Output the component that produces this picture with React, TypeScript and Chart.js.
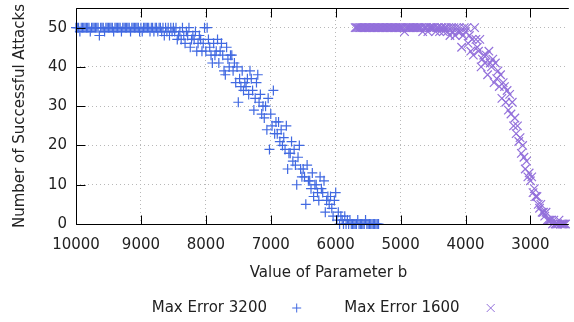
import React, { useEffect, useRef } from "react";
import { Chart, registerables } from "chart.js";

Chart.register(...registerables);

const xTickValues = [10000, 9000, 8000, 7000, 6000, 5000, 4000, 3000];
const yTickValues = [0, 10, 20, 30, 40, 50];
const seriesLabels = ["Max Error 3200", "Max Error 1600"];
const xTitle = "Value of Parameter b";
const yTitle = "Number of Successful Attacks";

const bError3200 = [
  10000, 9980, 9960, 9940, 9920, 9900, 9880, 9860, 9840, 9820,
  9800, 9780, 9760, 9740, 9720, 9700, 9680, 9660, 9640, 9620,
  9600, 9580, 9560, 9540, 9520, 9500, 9480, 9460, 9440, 9420,
  9400, 9380, 9360, 9340, 9320, 9300, 9280, 9260, 9240, 9220,
  9200, 9180, 9160, 9140, 9120, 9100, 9080, 9060, 9040, 9020,
  9000, 8980, 8960, 8940, 8920, 8900, 8880, 8860, 8840, 8820,
  8800, 8780, 8760, 8740, 8720, 8700, 8680, 8660, 8640, 8620,
  8600, 8580, 8560, 8540, 8520, 8500, 8480, 8460, 8440, 8420,
  8400, 8380, 8360, 8340, 8320, 8300, 8280, 8260, 8240, 8220,
  8200, 8180, 8160, 8140, 8120, 8100, 8080, 8060, 8040, 8020,
  8000, 7980, 7960, 7940, 7920, 7900, 7880, 7860, 7840, 7820,
  7800, 7780, 7760, 7740, 7720, 7700, 7680, 7660, 7640, 7620,
  7600, 7580, 7560, 7540, 7520, 7500, 7480, 7460, 7440, 7420,
  7400, 7380, 7360, 7340, 7320, 7300, 7280, 7260, 7240, 7220,
  7200, 7180, 7160, 7140, 7120, 7100, 7080, 7060, 7040, 7020,
  7000, 6980, 6960, 6940, 6920, 6900, 6880, 6860, 6840, 6820,
  6800, 6780, 6760, 6740, 6720, 6700, 6680, 6660, 6640, 6620,
  6600, 6580, 6560, 6540, 6520, 6500, 6480, 6460, 6440, 6420,
  6400, 6380, 6360, 6340, 6320, 6300, 6280, 6260, 6240, 6220,
  6200, 6180, 6160, 6140, 6120, 6100, 6080, 6060, 6040, 6020,
  6000, 5980, 5960, 5940, 5920, 5900, 5880, 5860, 5840, 5820,
  5800, 5780, 5760, 5740, 5720, 5700, 5680, 5660, 5640, 5620,
  5600, 5580, 5560, 5540, 5520, 5500, 5480, 5460, 5440, 5420,
  5400, 5380, 5360, 5340,
];
const attacksError3200 = [
  50, 50, 50, 49, 50, 50, 50, 50, 50, 50,
  50, 49, 50, 50, 50, 50, 50, 50, 48, 50,
  50, 50, 49, 50, 50, 50, 50, 50, 50, 49,
  50, 50, 50, 50, 50, 49, 50, 50, 50, 50,
  50, 50, 49, 50, 50, 50, 50, 50, 50, 49,
  50, 49, 50, 50, 50, 50, 50, 49, 50, 50,
  49, 50, 50, 49, 50, 50, 49, 50, 48, 50,
  49, 50, 48, 50, 49, 50, 49, 50, 47, 48,
  49, 47, 50, 48, 46, 49, 48, 50, 45, 47,
  48, 47, 49, 44, 46, 48, 47, 44, 46, 50,
  44, 50, 47, 45, 43, 41, 46, 43, 44, 47,
  41, 44, 46, 43, 39, 38, 45, 42, 40, 43,
  43, 39, 41, 36, 40, 31, 37, 35, 39, 34,
  36, 35, 37, 33, 39, 37, 34, 29, 32, 36,
  38, 31, 33, 28, 30, 27, 30, 24, 32, 19,
  28, 25, 34, 23, 26, 23, 26, 21, 24, 20,
  22, 19, 25, 14, 18, 18, 21, 16, 19, 15,
  10, 17, 20, 14, 12, 14, 12, 5, 15, 11,
  11, 9, 13, 7, 10, 10, 8, 6, 12, 9,
  8, 11, 3, 6, 7, 5, 7, 4, 2, 6,
  8, 1, 3, 0, 2, 1, 0, 2, 0, 1,
  0, 1, 0, 0, 0, 0, 0, 1, 0, 0,
  0, 0, 0, 1, 0, 0, 0, 0, 0, 0,
  0, 0, 0, 0,
];

const bError1600 = [
  5700, 5680, 5660, 5640, 5620, 5600, 5580, 5560, 5540, 5520,
  5500, 5480, 5460, 5440, 5420, 5400, 5380, 5360, 5340, 5320,
  5300, 5280, 5260, 5240, 5220, 5200, 5180, 5160, 5140, 5120,
  5100, 5080, 5060, 5040, 5020, 5000, 4980, 4960, 4940, 4920,
  4900, 4880, 4860, 4840, 4820, 4800, 4780, 4760, 4740, 4720,
  4700, 4680, 4660, 4640, 4620, 4600, 4580, 4560, 4540, 4520,
  4500, 4480, 4460, 4440, 4420, 4400, 4380, 4360, 4340, 4320,
  4300, 4280, 4260, 4240, 4220, 4200, 4180, 4160, 4140, 4120,
  4100, 4080, 4060, 4040, 4020, 4000, 3980, 3960, 3940, 3920,
  3900, 3880, 3860, 3840, 3820, 3800, 3780, 3760, 3740, 3720,
  3700, 3680, 3660, 3640, 3620, 3600, 3580, 3560, 3540, 3520,
  3500, 3480, 3460, 3440, 3420, 3400, 3380, 3360, 3340, 3320,
  3300, 3280, 3260, 3240, 3220, 3200, 3180, 3160, 3140, 3120,
  3100, 3080, 3060, 3040, 3020, 3000, 2980, 2960, 2940, 2920,
  2900, 2880, 2860, 2840, 2820, 2800, 2780, 2760, 2740, 2720,
  2700, 2680, 2660, 2640, 2620, 2600, 2580, 2560, 2540, 2520,
  2500, 2480, 2460,
];
const attacksError1600 = [
  50, 50, 50, 50, 50, 50, 50, 50, 50, 50,
  50, 50, 50, 50, 50, 50, 50, 50, 50, 50,
  50, 50, 50, 50, 50, 50, 50, 50, 50, 50,
  50, 50, 50, 50, 50, 50, 50, 50, 49, 50,
  50, 50, 50, 50, 50, 50, 50, 50, 50, 50,
  50, 50, 49, 50, 50, 50, 49, 50, 50, 50,
  50, 50, 49, 50, 50, 49, 50, 50, 49, 50,
  50, 49, 50, 48, 50, 49, 50, 48, 50, 49,
  50, 49, 45, 48, 50, 49, 50, 46, 48, 44,
  47, 43, 50, 47, 45, 44, 47, 40, 42, 43,
  41, 43, 38, 44, 41, 40, 42, 36, 41, 37,
  39, 35, 38, 32, 36, 35, 31, 34, 29, 33,
  28, 31, 25, 27, 23, 25, 21, 22, 18, 20,
  17, 14, 16, 12, 13, 11, 12, 8, 9, 7,
  7, 5, 4, 5, 3, 3, 2, 3, 1, 1,
  1, 1, 0, 1, 0, 0, 0, 1, 0, 0,
  0, 0, 0,
];

const BLUE = "#4169e1";
const PURPLE = "#9370db";
const TEXT = "#222222";
const FONT = "'DejaVu Sans'";

const framePlugin = {
  id: "gnuplotFrame",
  afterDatasetsDraw(chart: any) {
    const { ctx, chartArea: a, scales } = chart;
    const x = scales.x;
    const y = scales.y;
    ctx.save();
    ctx.strokeStyle = "#000";
    ctx.lineWidth = 1;
    ctx.beginPath();
    const L = Math.round(a.left) + 0.5;
    const B = Math.round(a.bottom) + 0.5;
    const T = Math.round(a.top) + 0.5;
    ctx.moveTo(a.right + 2, T);
    ctx.lineTo(L, T);
    ctx.lineTo(L, B);
    ctx.lineTo(a.right + 2, B);
    const tl = 9;
    for (const v of yTickValues) {
      const py = Math.round(y.getPixelForValue(v)) + 0.5;
      ctx.moveTo(L, py);
      ctx.lineTo(L + tl, py);
    }
    for (const v of xTickValues) {
      const px = Math.round(x.getPixelForValue(v)) + 0.5;
      ctx.moveTo(px, B);
      ctx.lineTo(px, B - tl);
      ctx.moveTo(px, T);
      ctx.lineTo(px, T + tl);
    }
    ctx.stroke();
    ctx.restore();
  },
  afterDraw(chart: any) {
    const { ctx, chartArea: a } = chart;
    ctx.save();
    ctx.fillStyle = TEXT;
    ctx.font = `15px ${FONT}`;
    ctx.textBaseline = "middle";
    ctx.textAlign = "center";
    ctx.fillText(xTitle, 328.5, 273);
    ctx.save();
    ctx.translate(20, (a.top + a.bottom) / 2);
    ctx.rotate(-Math.PI / 2);
    ctx.fillText(yTitle, 0, 0);
    ctx.restore();
    ctx.textAlign = "left";
    const ly = 308;
    ctx.fillText(seriesLabels[0], 151.7, ly);
    ctx.fillText(seriesLabels[1], 344.3, ly);
    ctx.lineWidth = 1;
    ctx.strokeStyle = BLUE;
    ctx.beginPath();
    ctx.moveTo(296.7 - 4.5, ly);
    ctx.lineTo(296.7 + 4.5, ly);
    ctx.moveTo(296.7, ly - 4.5);
    ctx.lineTo(296.7, ly + 4.5);
    ctx.stroke();
    ctx.strokeStyle = PURPLE;
    ctx.beginPath();
    ctx.moveTo(490.7 - 4, ly - 4);
    ctx.lineTo(490.7 + 4, ly + 4);
    ctx.moveTo(490.7 - 4, ly + 4);
    ctx.lineTo(490.7 + 4, ly - 4);
    ctx.stroke();
    ctx.restore();
  },
};

export default function App() {
  const canvasRef = useRef<HTMLCanvasElement | null>(null);

  useEffect(() => {
    const canvas = canvasRef.current;
    if (!canvas) return;
    const pts1 = bError3200.map((b, i) => ({ x: b, y: attacksError3200[i] }));
    const pts2 = bError1600.map((b, i) => ({ x: b, y: attacksError1600[i] }));
    const chart = new Chart(canvas, {
      type: "scatter",
      data: {
        datasets: [
          {
            label: seriesLabels[0],
            data: pts1,
            pointStyle: "cross",
            pointRadius: 5,
            borderColor: BLUE,
            backgroundColor: BLUE,
            borderWidth: 1.2,
            clip: false as any,
          },
          {
            label: seriesLabels[1],
            data: pts2,
            pointStyle: "crossRot",
            pointRadius: 6,
            borderColor: PURPLE,
            backgroundColor: PURPLE,
            borderWidth: 1.2,
            clip: false as any,
          },
        ],
      },
      options: {
        animation: false,
        responsive: false,
        devicePixelRatio: 1,
        layout: { padding: { top: 8, left: 0, right: 0, bottom: 0 } },
        plugins: {
          legend: { display: false },
          tooltip: { enabled: false },
        },
        scales: {
          x: {
            type: "linear",
            reverse: true,
            min: 2440,
            max: 10000,
            afterBuildTicks: (s: any) => {
              s.ticks = xTickValues.map((v) => ({ value: v }));
            },
            ticks: {
              font: { family: FONT, size: 15 },
              color: TEXT,
              padding: 12,
              maxRotation: 0,
              autoSkip: false,
              callback: (v: any) => String(v),
            },
            grid: { color: "#b8b8b8", drawTicks: false, lineWidth: 1 },
            border: { display: false, dash: [1, 3] },
            afterFit: (s: any) => {
              s.height = 98;
              s.paddingLeft = 0;
              s.paddingRight = 0;
            },
          },
          y: {
            type: "linear",
            min: 0,
            max: 55,
            afterBuildTicks: (s: any) => {
              s.ticks = yTickValues.map((v) => ({ value: v }));
            },
            ticks: {
              font: { family: FONT, size: 15 },
              color: TEXT,
              padding: 9,
              autoSkip: false,
            },
            grid: { color: "#b8b8b8", drawTicks: false, lineWidth: 1 },
            border: { display: false, dash: [1, 3] },
            afterFit: (s: any) => {
              s.width = 76;
              s.paddingTop = 0;
              s.paddingBottom = 0;
            },
          },
        },
      },
      plugins: [framePlugin],
    });
    return () => chart.destroy();
  }, []);

  return (
    <div style={{ position: "absolute", left: 0, top: 0, width: 574, height: 322, background: "#fff" }}>
      <canvas ref={canvasRef} width={574} height={322} style={{ display: "block" }} />
    </div>
  );
}
